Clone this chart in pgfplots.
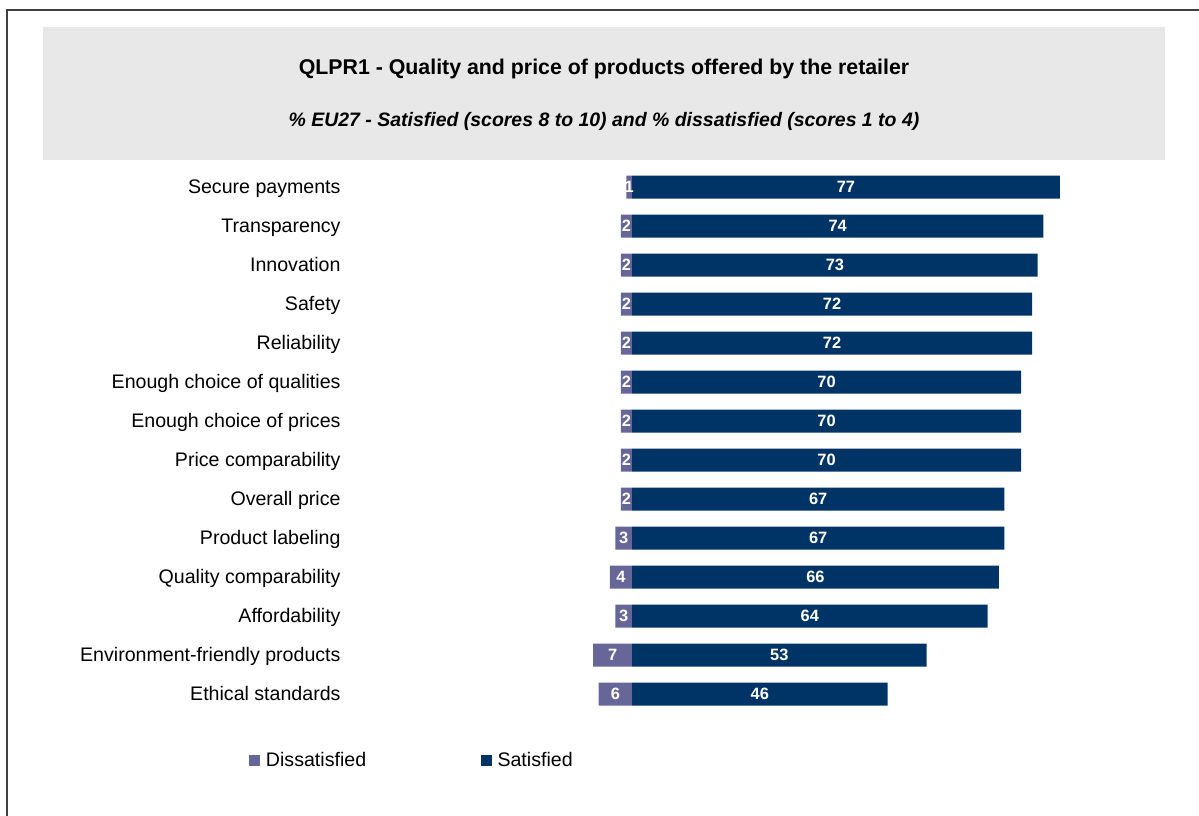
\documentclass[border=0pt]{standalone}
\usepackage{fontspec}
\setmainfont{Liberation Sans}
\usepackage{pgfplots}
\usepackage{pgfplotstable}
\pgfplotsset{compat=1.18}
\definecolor{sat}{HTML}{003366}
\definecolor{dis}{HTML}{666699}
\definecolor{hdr}{HTML}{E8E8E8}
\pgfplotstableread[col sep=comma]{
label,dis,sat
Secure payments,1,77
Transparency,2,74
Innovation,2,73
Safety,2,72
Reliability,2,72
Enough choice of qualities,2,70
Enough choice of prices,2,70
Price comparability,2,70
Overall price,2,67
Product labeling,3,67
Quality comparability,4,66
Affordability,3,64
Environment-friendly products,7,53
Ethical standards,6,46
}\data
\begin{document}
\begin{tikzpicture}
\begin{scope}[x=0.75pt,y=-0.75pt]
\useasboundingbox (0,0) rectangle (1199,816);
\draw[line width=1.1pt, black!75] (7,830) -- (7,10) -- (1215,10);
\fill[hdr] (43,27) rectangle (1165,160);
\node[font=\fontsize{16}{19}\selectfont\bfseries] at (604,69) {QLPR1 - Quality and price of products offered by the retailer};
\node[font=\fontsize{14.6}{17}\selectfont\bfseries\itshape] at (604,121) {\% EU27 - Satisfied (scores 8 to 10) and \% dissatisfied (scores 1 to 4)};
\coordinate (axpos) at (340,713.5);
\end{scope}
\begin{axis}[
  at={(axpos)}, anchor=south west, scale only axis,
  width=635.85pt, height=409.5pt,
  xmin=-52.54, xmax=100, ymin=-0.5, ymax=13.5, y dir=reverse,
  axis line style={draw=none}, major tick length=0pt, xtick=\empty,
  ytick={0,...,13}, yticklabels from table={\data}{label},
  yticklabel style={font=\fontsize{14.7}{17}\selectfont, inner sep=0pt, anchor=base east, xshift=0.6pt, yshift=-5.2pt},
  /pgf/number format/assume math mode=true,
  clip=false,
  nodes near coords,
  nodes near coords style={font=\fontsize{12.3}{14}\selectfont\bfseries, text=white, anchor=center, shift={(axis direction cs:-\rawx/2,0)}},
  legend columns=2,
  legend style={at={(-0.1073,-0.0852)}, anchor=west, draw=none, fill=none, inner sep=0pt,
    font=\fontsize{14.7}{17}\selectfont, /tikz/every even column/.append style={column sep=84pt}},
  legend image code/.code={\fill[#1,draw=none] (0pt,-4.1pt) rectangle (8.25pt,4.1pt); \path (10.5pt,0pt);},
]
\addplot[xbar, bar width=17.25pt, bar shift=0pt, fill=dis, draw=none, point meta=\thisrow{dis},
  visualization depends on={x \as \rawx}] table[x expr=-\thisrow{dis}, y expr=\coordindex] {\data};
\addplot[xbar, bar width=17.25pt, bar shift=0pt, fill=sat, draw=none, point meta=x,
  visualization depends on={x \as \rawx}] table[x=sat, y expr=\coordindex] {\data};
\legend{Dissatisfied, Satisfied}
\end{axis}
\end{tikzpicture}
\end{document}
